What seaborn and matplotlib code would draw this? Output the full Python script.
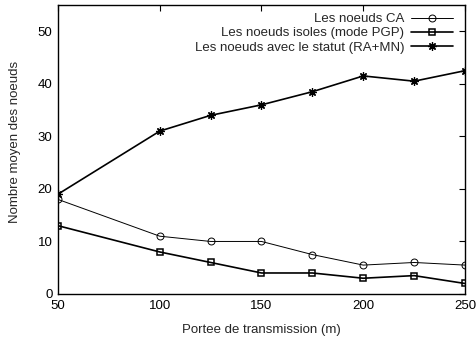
import pandas as pd
import matplotlib
matplotlib.use("Agg")
import matplotlib.pyplot as plt
import seaborn as sns

# data
portee = [50, 100, 125, 150, 175, 200, 225, 250]
noeuds_ca = [18, 11, 10, 10, 7.5, 5.5, 6, 5.5]
noeuds_pgp = [13, 8, 6, 4, 4, 3, 3.5, 2]
noeuds_ramn = [19, 31, 34, 36, 38.5, 41.5, 40.5, 42.5]
labels = ["Les noeuds CA", "Les noeuds isoles (mode PGP)", "Les noeuds avec le statut (RA+MN)"]

sns.set_style("white")
plt.rcParams['font.family'] = ['Liberation Sans', 'DejaVu Sans']

fig = plt.figure(figsize=(4.77, 3.39), dpi=100)
ax = fig.add_axes([58 / 477, 1 - 294 / 339, 407 / 477, 289 / 339])

df = pd.DataFrame({"x": portee, "ca": noeuds_ca, "pgp": noeuds_pgp, "ramn": noeuds_ramn})

sns.lineplot(data=df, x="x", y="ca", ax=ax, color="black", lw=0.7, marker="o",
             markersize=5, markerfacecolor="none", markeredgecolor="black",
             markeredgewidth=0.7, label=labels[0])
sns.lineplot(data=df, x="x", y="pgp", ax=ax, color="black", lw=1.2, marker="s",
             markersize=5, markerfacecolor="none", markeredgecolor="black",
             markeredgewidth=1.1, label=labels[1])
sns.lineplot(data=df, x="x", y="ramn", ax=ax, color="black", lw=1.2, marker=(8, 2, 0),
             markersize=6, markeredgecolor="black", markeredgewidth=0.9, label=labels[2])

ax.set_xlim(50, 250)
ax.set_ylim(0, 55)
ax.set_xticks([50, 100, 150, 200, 250])
ax.set_yticks([0, 10, 20, 30, 40, 50])
ax.tick_params(direction="in", top=True, right=True, length=4, width=0.8,
               labelsize=9.5, colors="black", pad=4)
for s in ax.spines.values():
    s.set_color("black")
    s.set_linewidth(1.0)

ax.set_xlabel("Portee de transmission (m)", fontsize=9.5, labelpad=9)
ax.set_ylabel("Nombre moyen des noeuds", fontsize=9.5)
ax.yaxis.set_label_coords(-0.092, 0.526)

ax.legend(loc="upper right", frameon=False, markerfirst=False, fontsize=9.5,
          handlelength=3.2, handletextpad=0.5, labelspacing=0.15,
          bbox_to_anchor=(0.99, 1.0), borderaxespad=0.2)

fig.savefig("out.png", dpi=100)
